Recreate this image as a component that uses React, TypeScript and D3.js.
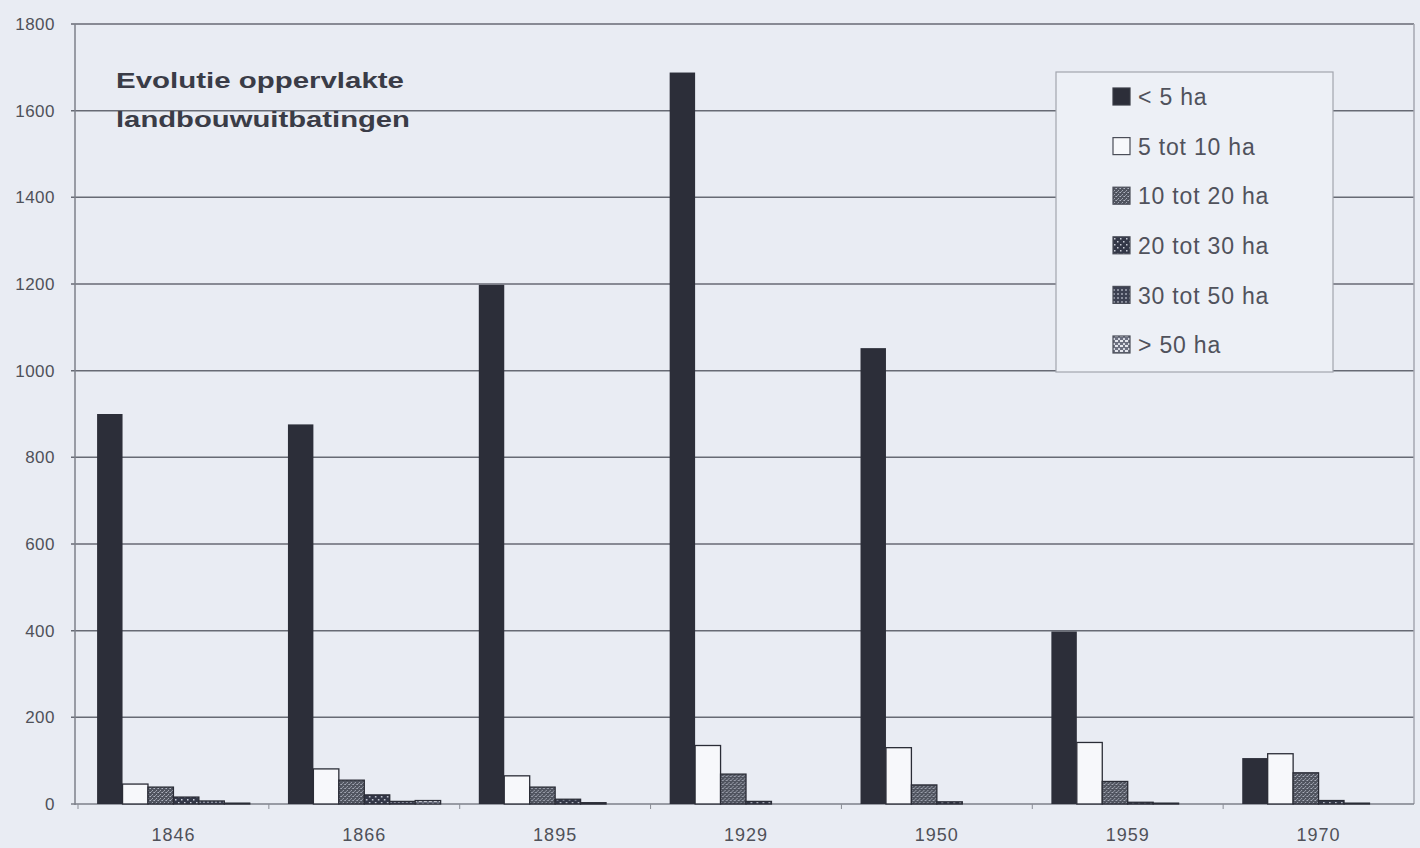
import React from "react";
import * as d3 from "d3";

const years = ["1846", "1866", "1895", "1929", "1950", "1959", "1970"];
const seriesNames = ["< 5 ha", "5 tot 10 ha", "10 tot 20 ha", "20 tot 30 ha", "30 tot 50 ha", "> 50 ha"];
const lt5 = [900, 876, 1198, 1688, 1052, 398, 106];
const s5to10 = [46, 81, 65, 135, 130, 142, 116];
const s10to20 = [39, 55, 39, 69, 44, 52, 72];
const s20to30 = [16, 21, 11, 6, 5, 4, 8];
const s30to50 = [7, 6, 3, 0, 0, 2, 2];
const gt50 = [2, 8, 0, 0, 0, 0, 0];
const yTicks = [0, 200, 400, 600, 800, 1000, 1200, 1400, 1600, 1800];
const titleLines = ["Evolutie oppervlakte", "landbouwuitbatingen"];

const seriesValues = [lt5, s5to10, s10to20, s20to30, s30to50, gt50];
const fills = ["#2c2e39", "#f7f8fb", "url(#p1020)", "url(#p2030)", "url(#p3050)", "url(#p50)"];
const strokes = ["#2c2e39", "#2a2c36", "#2a2c36", "#2a2c36", "#2a2c36", "#2a2c36"];

export default function App() {
  const W = 1420, H = 848;
  const left = 78, right = 1414, top = 24, bottom = 804;
  const x0 = d3.scaleBand<string>().domain(years).range([left, right]).paddingInner(0).paddingOuter(0);
  const x1 = d3.scaleBand<string>().domain(seriesNames).range([0, x0.bandwidth()]).paddingInner(0).paddingOuter(0.75);
  const y = d3.scaleLinear().domain([0, 1800]).range([bottom, top]);
  const bg = "#e9ecf3";
  const textCol = "#4f5159";
  const font = "Arial, 'Liberation Sans', Helvetica, sans-serif";

  return (
    <svg width={W} height={H} style={{ position: "absolute", left: 0, top: 0, background: bg }}>
      <defs>
        <pattern id="p1020" width="4" height="4" patternUnits="userSpaceOnUse">
          <rect width="4" height="4" fill="#50545f" />
          <rect x="0" y="0" width="1" height="1" fill="#b0b4c0" />
          <rect x="2" y="2" width="1" height="1" fill="#a5a9b5" />
          <rect x="3" y="0" width="1" height="1" fill="#868a97" />
          <rect x="1" y="3" width="1" height="1" fill="#8d919e" />
        </pattern>
        <pattern id="p2030" width="6" height="6" patternUnits="userSpaceOnUse">
          <rect width="6" height="6" fill="#333747" />
          <rect x="1" y="1" width="1.5" height="1.5" fill="#c9ccd6" />
          <rect x="4" y="4" width="1.5" height="1.5" fill="#c9ccd6" />
        </pattern>
        <pattern id="p3050" width="4" height="4" patternUnits="userSpaceOnUse">
          <rect width="4" height="4" fill="#3d4152" />
          <rect x="1" y="1" width="2" height="2" fill="#8a8e9c" />
        </pattern>
        <pattern id="p50" width="5" height="5" patternUnits="userSpaceOnUse">
          <rect width="5" height="5" fill="#6c7080" />
          <rect x="0" y="0" width="3" height="2" fill="#e3e5ec" />
          <rect x="3" y="3" width="2" height="2" fill="#d2d5de" />
        </pattern>
      </defs>
      <rect x={0} y={0} width={W} height={H} fill={bg} />
      {yTicks.filter((t) => t > 0).map((t) => (
        <line key={t} x1={left - 7} x2={right} y1={y(t)} y2={y(t)} stroke="#676a74" strokeWidth={1.5} />
      ))}
      <line x1={right} x2={right} y1={top} y2={bottom} stroke="#a4a7b0" strokeWidth={1.5} />
      <line x1={left - 3} x2={left - 3} y1={top} y2={bottom + 1} stroke="#7d808a" strokeWidth={1.5} />
      <line x1={left - 7} x2={right} y1={bottom} y2={bottom} stroke="#7d808a" strokeWidth={1.5} />
      {years.map((yr) => (
        <line key={yr} x1={x0(yr)!} x2={x0(yr)!} y1={bottom} y2={bottom + 5} stroke="#8a8d96" strokeWidth={1} />
      ))}
      {yTicks.map((t) => (
        <text key={t} x={55} y={y(t)} dy="0.35em" textAnchor="end" fontFamily={font} fontSize={17} fill={textCol} letterSpacing={0.5}>
          {t}
        </text>
      ))}
      {years.map((yr) => (
        <text key={yr} x={x0(yr)! + x0.bandwidth() / 2} y={841} textAnchor="middle" fontFamily={font} fontSize={18} fill={textCol} letterSpacing={1}>
          {yr}
        </text>
      ))}
      {years.map((yr, i) => (
        <g key={yr} transform={`translate(${x0(yr)},0)`}>
          {seriesNames.map((s, j) => {
            const v = seriesValues[j][i];
            if (v <= 0) return null;
            return (
              <rect
                key={s}
                x={x1(s)!}
                y={y(v)}
                width={x1.bandwidth()}
                height={bottom - y(v)}
                fill={fills[j]}
                stroke={strokes[j]}
                strokeWidth={j === 0 ? 0 : 1.3}
              />
            );
          })}
        </g>
      ))}
      {titleLines.map((t, i) => (
        <text key={t} x={116} y={88 + i * 39} fontFamily={font} fontWeight="bold" fontSize={22} fill="#3a3c47"
          textLength={i === 0 ? 288 : 294} lengthAdjust="spacingAndGlyphs">
          {t}
        </text>
      ))}
      <rect x={1056} y={72} width={277} height={300} fill="#edf0f6" stroke="#a2a5ae" strokeWidth={1.2} />
      {seriesNames.map((s, j) => {
        const cy = 97 + j * 49.6;
        return (
          <g key={s}>
            <rect x={1113} y={cy - 9} width={17} height={17} fill={fills[j]} stroke={j === 0 ? "#3a3c47" : "#4a4d58"} strokeWidth={1.2} />
            <text x={1138} y={cy} dy="0.36em" fontFamily={font} fontSize={23} fill="#50525c" letterSpacing={0.8}>
              {s}
            </text>
          </g>
        );
      })}
    </svg>
  );
}
